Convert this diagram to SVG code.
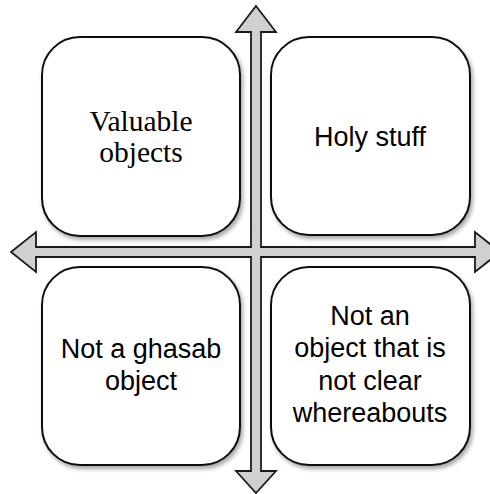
<svg xmlns="http://www.w3.org/2000/svg" width="490" height="494" viewBox="0 0 490 494">
<defs>
<filter id="sh" x="-10%" y="-10%" width="125%" height="125%">
<feDropShadow dx="2" dy="3" stdDeviation="2" flood-color="#000" flood-opacity="0.35"/>
</filter>
<style>
.box{fill:#fff;stroke:#111;stroke-width:2;filter:url(#sh)}
.arrow{fill:#d0d0d0;stroke:#1a1a1a;stroke-width:1.8;stroke-linejoin:miter}
.serif{font-family:"Liberation Serif","Times New Roman",serif;font-size:29.5px;fill:#000;text-anchor:middle}
.sans{font-family:"Liberation Sans",Arial,sans-serif;font-size:27px;fill:#000;text-anchor:middle}
</style>
</defs>
<g id="connectors">
<path class="arrow" d="M256,6 L276,32 L261,32 L261,247 L475,247 L475,232 L500,252 L475,272 L475,257 L261,257 L261,471 L276,471 L256,493 L236,471 L251,471 L251,257 L36,257 L36,272 L11,252 L36,232 L36,247 L251,247 L251,32 L236,32 Z"/>
</g>
<g id="node-valuable">
<rect class="box" x="42" y="37" width="198" height="199" rx="38" ry="38"/>
<text class="serif" x="141" y="131">Valuable</text>
<text class="serif" x="141" y="162">objects</text>
</g>
<g id="node-holy">
<rect class="box" x="271" y="37" width="199" height="198" rx="38" ry="38"/>
<text class="sans" x="370" y="146">Holy stuff</text>
</g>
<g id="node-ghasab">
<rect class="box" x="42" y="267" width="198" height="198" rx="38" ry="38"/>
<text class="sans" x="141" y="358">Not a ghasab</text>
<text class="sans" x="141" y="390">object</text>
</g>
<g id="node-whereabouts">
<rect class="box" x="271" y="267" width="199" height="198" rx="38" ry="38"/>
<text class="sans" x="370" y="325">Not an</text>
<text class="sans" x="370" y="357">object that is</text>
<text class="sans" x="370" y="390">not clear</text>
<text class="sans" x="370" y="422">whereabouts</text>
</g>
</svg>
